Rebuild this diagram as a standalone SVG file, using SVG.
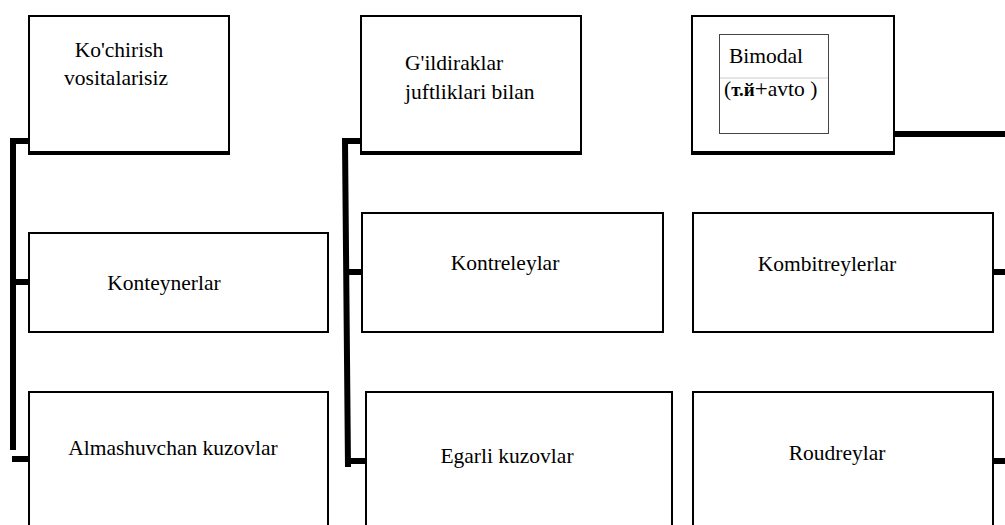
<svg xmlns="http://www.w3.org/2000/svg" width="1005" height="525" viewBox="0 0 1005 525">
<style>
.box{fill:#fff;stroke:#000;stroke-width:2}
.t{font-family:"Liberation Serif","Times New Roman",serif;font-size:21.5px;fill:#000}
.c{text-anchor:middle}
.wire{fill:none;stroke:#000;stroke-width:6}
.bot{stroke:#000;stroke-width:4}
</style>
<rect x="0" y="0" width="1005" height="525" fill="#fff"/>
<g id="connectors">
<polyline class="wire" points="29,141 13,141 13,450"/>
<line class="wire" x1="13" y1="282" x2="29" y2="282"/>
<line class="wire" x1="12" y1="459" x2="29" y2="459"/>
<polyline class="wire" points="361,141 345,141 348,467"/>
<line class="wire" x1="346" y1="272" x2="362" y2="272"/>
<line class="wire" x1="348" y1="461" x2="366" y2="461"/>
<line class="wire" x1="893" y1="134" x2="1005" y2="134" stroke-width="8"/>
<line class="wire" x1="993" y1="272" x2="1005" y2="272"/>
<line class="wire" x1="993" y1="461" x2="1005" y2="461"/>
</g>
<g id="n1">
<rect class="box" x="29" y="16" width="200" height="138"/>
<line class="bot" x1="28" y1="153" x2="230" y2="153"/>
<text class="t c" x="119" y="57">Ko'chirish</text>
<text class="t c" x="116" y="85">vositalarisiz</text>
</g>
<g id="n2">
<rect class="box" x="29" y="233" width="299" height="99"/>
<text class="t c" x="164" y="290">Konteynerlar</text>
</g>
<g id="n3">
<path class="box" d="M29,530 V392 H328 V530"/>
<text class="t c" x="173" y="455">Almashuvchan kuzovlar</text>
</g>
<g id="n4">
<rect class="box" x="361" y="16" width="220" height="138"/>
<line class="bot" x1="360" y1="153" x2="582" y2="153"/>
<text class="t" x="405" y="70">G'ildiraklar</text>
<text class="t" x="405" y="99">juftliklari bilan</text>
</g>
<g id="n5">
<rect class="box" x="362" y="213" width="301" height="119"/>
<text class="t c" x="505" y="270">Kontreleylar</text>
</g>
<g id="n6">
<path class="box" d="M366,530 V392 H672 V530"/>
<text class="t c" x="507" y="463">Egarli kuzovlar</text>
</g>
<g id="n7">
<rect class="box" x="692" y="16" width="202" height="138"/>
<line class="bot" x1="691" y1="153" x2="895" y2="153"/>
<rect x="719.5" y="34.5" width="109" height="99" fill="#fff" stroke="#444" stroke-width="1"/>
<line x1="720" y1="78" x2="828" y2="78" stroke="#ccc" stroke-width="1"/>
<text class="t" x="729" y="63">Bimodal</text>
<text class="t" x="724" y="96"><tspan>(</tspan><tspan font-weight="bold" font-size="19">т.й</tspan><tspan font-size="23">+</tspan><tspan>avto )</tspan></text>
</g>
<g id="n8">
<rect class="box" x="693" y="213" width="300" height="119"/>
<text class="t c" x="827" y="271">Kombitreylerlar</text>
</g>
<g id="n9">
<path class="box" d="M693,530 V392 H993 V530"/>
<text class="t c" x="837" y="460">Roudreylar</text>
</g>
</svg>
